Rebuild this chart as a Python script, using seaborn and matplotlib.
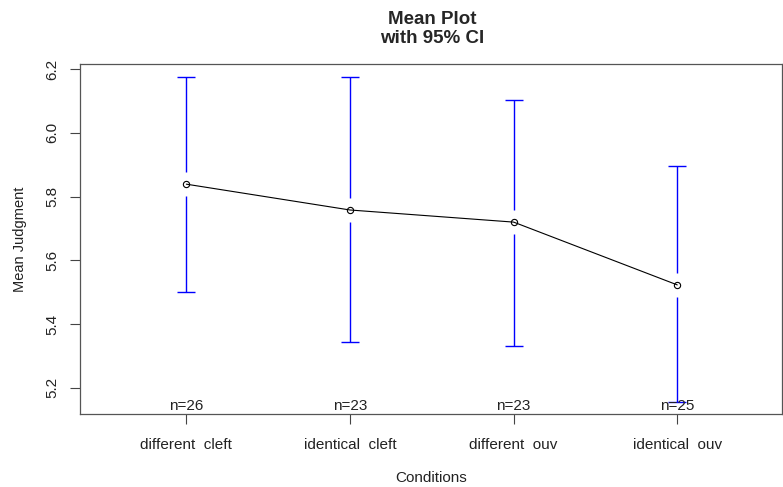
import numpy as np
import pandas as pd
import matplotlib
matplotlib.use('Agg')
import matplotlib.pyplot as plt
import seaborn as sns

# data
conditions = ['different  cleft', 'identical  cleft', 'different  ouv', 'identical  ouv']
means = [5.839, 5.758, 5.720, 5.523]
ci_upper = [6.175, 6.175, 6.103, 5.896]
ci_lower = [5.501, 5.344, 5.332, 5.156]
n_obs = [26, 23, 23, 25]

sns.set_theme(style='white')
plt.rcParams['font.family'] = ['Liberation Sans', 'DejaVu Sans']

fig = plt.figure(figsize=(7.83, 4.87), dpi=100)
ax = fig.add_axes([80 / 783, 73 / 487, 702 / 783, 350 / 487])

pos = np.arange(1, len(conditions) + 1)
df = pd.DataFrame({'pos': pos, 'mean': means})

# CI bars with a gap around the mean point (like R plotmeans)
gap = 0.038
for x, m, lo, hi in zip(pos, means, ci_lower, ci_upper):
    ax.vlines(x, lo, m - gap, color='blue', lw=1)
    ax.vlines(x, m + gap, hi, color='blue', lw=1)
ax.hlines(ci_upper, pos - 0.055, pos + 0.055, color='blue', lw=1)
ax.hlines(ci_lower, pos - 0.055, pos + 0.055, color='blue', lw=1)

sns.lineplot(data=df, x='pos', y='mean', ax=ax, color='black', lw=0.8,
             marker='o', markersize=4.5, markerfacecolor='none',
             markeredgecolor='black', markeredgewidth=0.8)

ax.set_xlim(0.35, 4.64)
ax.set_ylim(5.118, 6.216)

ymin = ax.get_ylim()[0]
for x, n in zip(pos, n_obs):
    ax.text(x, ymin + 0.003, f'n={n}', ha='center', va='bottom', fontsize=11,
            color='#222222')

ax.set_xticks(pos)
ax.set_xticklabels(conditions, fontsize=11, color='#222222')
ax.set_yticks([5.2, 5.4, 5.6, 5.8, 6.0, 6.2])
ax.set_yticklabels(['5.2', '5.4', '5.6', '5.8', '6.0', '6.2'], fontsize=11,
                   rotation=90, va='center', color='#222222')
ax.tick_params(axis='both', direction='out', length=7, width=0.8,
               color='#444444', bottom=True, left=True)
ax.tick_params(axis='x', pad=10)
ax.tick_params(axis='y', pad=8)

for s in ax.spines.values():
    s.set_color('#555555')
    s.set_linewidth(0.9)

ax.set_xlabel('Conditions', fontsize=11, color='#222222', labelpad=14)
ax.set_ylabel('Mean Judgment', fontsize=10.5, color='#222222', labelpad=13)
fig.text(432 / 783, 1 - 29 / 487, 'Mean Plot\nwith 95% CI', ha='center',
         va='center', fontsize=13.5, fontweight='bold', linespacing=1.2)

fig.savefig('out.png', dpi=100)
